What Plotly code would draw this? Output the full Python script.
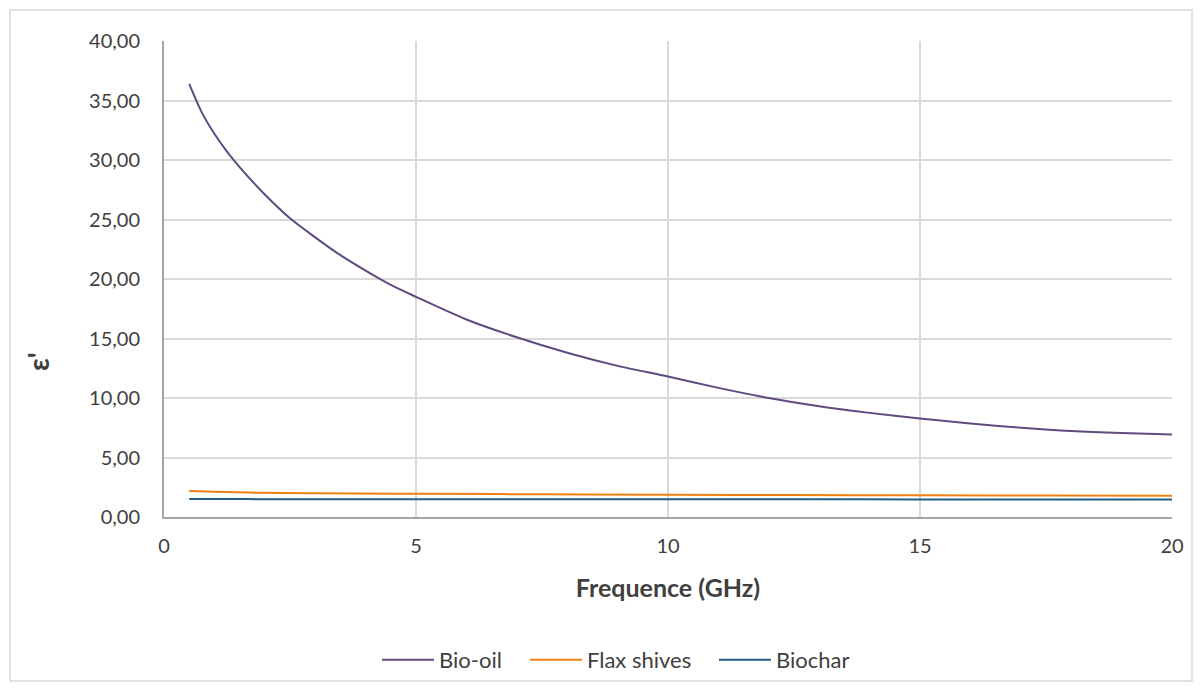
import plotly.graph_objects as go

freq_bio = [0.5, 0.75, 1.0, 1.25, 1.5, 2.0, 2.5, 3.0, 3.5, 4.0, 4.5, 5.0, 6.0, 7.0, 8.0, 9.0, 10.0,
            11.0, 12.0, 13.0, 14.0, 15.0, 16.0, 17.0, 18.0, 19.0, 20.0]
bio_oil = [36.4, 34.0, 32.2, 30.7, 29.4, 27.1, 25.1, 23.5, 22.0, 20.7, 19.5, 18.5, 16.6, 15.1, 13.8, 12.7, 11.8,
           10.85, 10.0, 9.3, 8.75, 8.28, 7.85, 7.5, 7.22, 7.05, 6.94]

freq_small = [0.5, 1.0, 2.0, 3.0, 5.0, 7.5, 10.0, 12.5, 15.0, 17.5, 20.0]
flax = [2.18, 2.12, 2.03, 2.0, 1.95, 1.91, 1.87, 1.85, 1.82, 1.80, 1.78]
biochar = [1.51, 1.51, 1.50, 1.50, 1.50, 1.50, 1.49, 1.49, 1.48, 1.48, 1.48]

x_ticks = [0, 5, 10, 15, 20]
y_ticks = [0, 5, 10, 15, 20, 25, 30, 35, 40]

FONT = "Lato"
TXT = "#404040"

# page offset of the figure (body margin)
OFF = 8
L, T = 164 - OFF, 41 - OFF
pw, ph = 1008, 476
W, H = 1202 - 2 * OFF, 691 - 2 * OFF
R = W - L - pw
B = H - T - ph

def py(page_y):
    return (T + ph - (page_y - OFF)) / ph

def px(page_x):
    return (page_x - OFF - L) / pw

fig = go.Figure()
fig.add_trace(go.Scatter(x=freq_bio, y=bio_oil, mode="lines", name="Bio-oil", legend="legend",
                         line=dict(color="#5F4A82", width=2, shape="spline", smoothing=0.8)))
fig.add_trace(go.Scatter(x=freq_small, y=flax, mode="lines", name="Flax shives", legend="legend2",
                         line=dict(color="#F08010", width=2, shape="spline")))
fig.add_trace(go.Scatter(x=freq_small, y=biochar, mode="lines", name="Biochar", legend="legend3",
                         line=dict(color="#1F5F86", width=2, shape="spline")))

leg_common = dict(orientation="h", xanchor="left", yanchor="middle", y=py(660), itemwidth=52,
                  font=dict(family=FONT, size=22, color=TXT), bgcolor="rgba(0,0,0,0)")

fig.update_layout(
    width=W, height=H,
    margin=dict(l=L, r=R, t=T, b=B, autoexpand=False),
    paper_bgcolor="white", plot_bgcolor="white",
    separators=", ",
    font=dict(family=FONT, size=20, color=TXT),
    showlegend=True,
    legend=dict(x=px(377), **leg_common),
    legend2=dict(x=px(525), **leg_common),
    legend3=dict(x=px(714), **leg_common),
    xaxis=dict(range=[0, 20], tickvals=x_ticks, ticktext=[str(v) for v in x_ticks],
               showgrid=True, gridcolor="#D9D9D9", gridwidth=1.5,
               showline=True, linecolor="#A6A6A6", linewidth=2, zeroline=False,
               ticks="", ticklabelstandoff=10,
               tickfont=dict(family=FONT, size=20, color=TXT),
               title=dict(text="<b>Frequence (GHz)</b>", font=dict(family=FONT, size=25, color=TXT),
                          standoff=23)),
    yaxis=dict(range=[0, 40], tickvals=y_ticks, tickformat=".2f",
               showgrid=True, gridcolor="#D9D9D9", gridwidth=1.5,
               showline=True, linecolor="#A6A6A6", linewidth=2, zeroline=False,
               ticks="", ticklabelstandoff=18,
               tickfont=dict(family=FONT, size=20, color=TXT)),
)

# y-axis title (placed where the reference has it)
fig.add_annotation(text="<b>ε'</b>", xref="paper", yref="paper", x=px(38), y=py(362),
                   xanchor="center", yanchor="middle", textangle=-90, showarrow=False,
                   font=dict(family=FONT, size=28, color=TXT))

# outer chart border
fig.add_shape(type="rect", xref="paper", yref="paper",
              x0=px(10), x1=px(1192), y0=py(681), y1=py(10),
              line=dict(color="#D9D9D9", width=1.5), fillcolor="rgba(0,0,0,0)", layer="below")

fig.write_html("out.html")
